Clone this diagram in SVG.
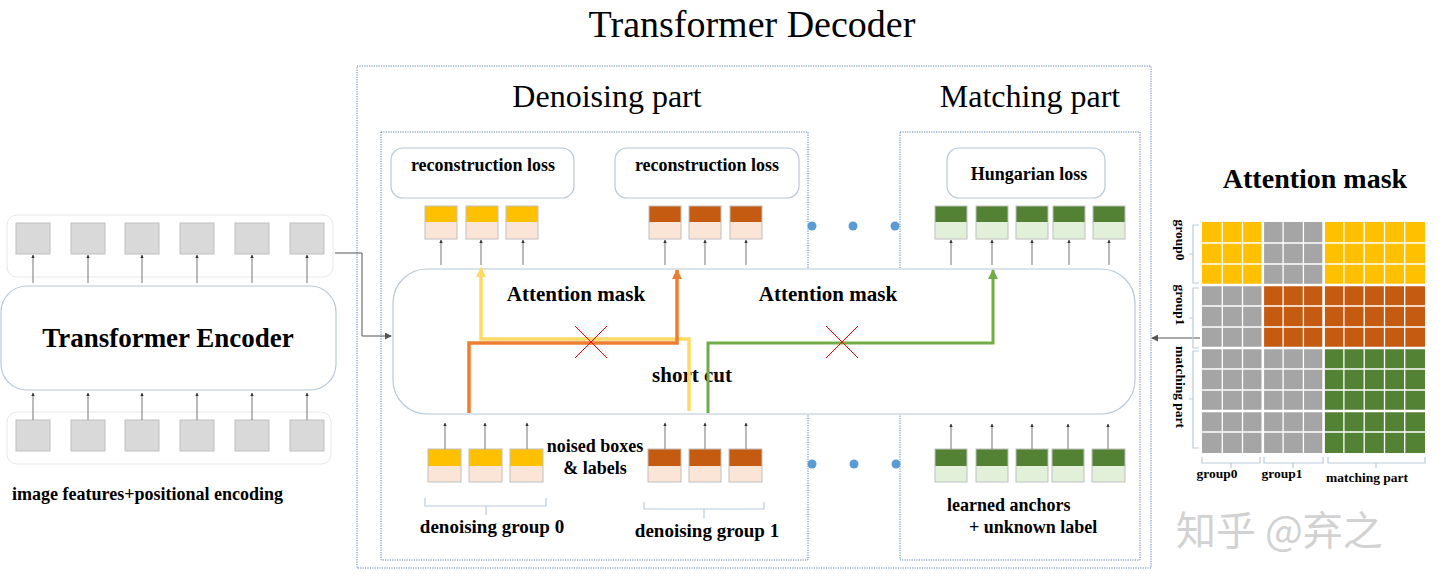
<svg xmlns="http://www.w3.org/2000/svg" width="1440" height="585" viewBox="0 0 1440 585">
<style>
text{font-family:"Liberation Serif","Times New Roman",serif;fill:#000}
.b{font-weight:bold}
.dot{fill:none;stroke:#5a7fa8;stroke-width:1;stroke-dasharray:1.2 1.2}
.rb{fill:#fff;stroke:#b8c8d6;stroke-width:1.2}
.lc{fill:#fff;stroke:#e4e8ec;stroke-width:1}
.gt{fill:#d9d9d9;stroke:#bfbfbf;stroke-width:1}
.ln line{stroke:#777;stroke-width:1;marker-end:url(#tip)}
.br{fill:none;stroke:#b9cbdb;stroke-width:1.2}
.tb{stroke:#bfbfbf;stroke-width:1}
.y1{fill:#ffc000}.o1{fill:#c55a11}.g1{fill:#548235}
.p2{fill:#fbe5d6}.g2{fill:#e2f0d9}
.bd{fill:#5b9bd5}
.x{stroke:#ff0000;stroke-width:1}
.wl{stroke:#fff;stroke-width:1.3}
.wt{stroke:#fff;stroke-width:2.6}
</style>
<defs>
<marker id="tip" viewBox="0 0 4 4" refX="3.5" refY="2" markerWidth="3.5" markerHeight="3.5" markerUnits="userSpaceOnUse" orient="auto"><path d="M0,0L4,2L0,4z" fill="#333"/></marker>
<marker id="ar" viewBox="0 0 8 8" refX="7" refY="4" markerWidth="7" markerHeight="7" markerUnits="userSpaceOnUse" orient="auto"><path d="M0,0L8,4L0,8z" fill="#555"/></marker>
<marker id="ay" viewBox="0 0 10 10" refX="9" refY="5" markerWidth="10" markerHeight="10" markerUnits="userSpaceOnUse" orient="auto"><path d="M0,0L10,5L0,10z" fill="#ffd966"/></marker>
<marker id="ao" viewBox="0 0 10 10" refX="9" refY="5" markerWidth="10" markerHeight="10" markerUnits="userSpaceOnUse" orient="auto"><path d="M0,0L10,5L0,10z" fill="#ed7d31"/></marker>
<marker id="ag" viewBox="0 0 10 10" refX="9" refY="5" markerWidth="10" markerHeight="10" markerUnits="userSpaceOnUse" orient="auto"><path d="M0,0L10,5L0,10z" fill="#70ad47"/></marker>
</defs>

<text x="752" y="37" font-size="38" text-anchor="middle">Transformer Decoder</text>

<!-- Encoder side -->
<g id="encoder-outputs">
<rect class="lc" x="7" y="215" width="326" height="62" rx="10"/>
<rect class="gt" x="16" y="223" width="34" height="31"/>
<rect class="gt" x="71" y="223" width="34" height="31"/>
<rect class="gt" x="125" y="223" width="34" height="31"/>
<rect class="gt" x="180" y="223" width="34" height="31"/>
<rect class="gt" x="235" y="223" width="34" height="31"/>
<rect class="gt" x="290" y="223" width="34" height="31"/>
</g>
<g id="transformer-encoder">
<rect class="rb" x="1" y="286" width="335" height="104" rx="26"/>
<text class="b" x="168" y="347" font-size="27" text-anchor="middle">Transformer Encoder</text>
</g>
<g id="encoder-inputs">
<rect class="lc" x="7" y="412" width="324" height="52" rx="10"/>
<rect class="gt" x="16" y="420" width="34" height="31"/>
<rect class="gt" x="71" y="420" width="34" height="31"/>
<rect class="gt" x="125" y="420" width="34" height="31"/>
<rect class="gt" x="180" y="420" width="34" height="31"/>
<rect class="gt" x="235" y="420" width="34" height="31"/>
<rect class="gt" x="290" y="420" width="34" height="31"/>
<text class="b" x="12" y="500" font-size="18">image features+positional encoding</text>
</g>

<!-- Decoder frames -->
<g id="decoder">
<rect class="dot" x="357" y="66" width="794" height="502"/>
<text x="607" y="107" font-size="32" text-anchor="middle">Denoising part</text>
<text x="1030" y="107" font-size="32" text-anchor="middle">Matching part</text>
</g>
<g id="denoising-part"><rect class="dot" x="381" y="132" width="427" height="428"/></g>
<g id="matching-part"><rect class="dot" x="900" y="132" width="240" height="428"/></g>

<g id="loss0"><rect class="rb" x="391" y="148" width="183" height="50" rx="12"/><text class="b" x="483" y="171" font-size="18" text-anchor="middle">reconstruction loss</text></g>
<g id="loss1"><rect class="rb" x="615" y="148" width="184" height="50" rx="12"/><text class="b" x="707" y="171" font-size="18" text-anchor="middle">reconstruction loss</text></g>
<g id="hungarian"><rect class="rb" x="947" y="148" width="158" height="50" rx="12"/><text class="b" x="1029" y="180" font-size="18" text-anchor="middle">Hungarian loss</text></g>

<g id="decoder-block">
<rect class="rb" x="393" y="269" width="742" height="145" rx="34"/>
<text class="b" x="576" y="301" font-size="21" text-anchor="middle">Attention mask</text>
<text class="b" x="828" y="301" font-size="21" text-anchor="middle">Attention mask</text>
<text class="b" x="692" y="382" font-size="21" text-anchor="middle">short cut</text>
</g>

<!-- output tokens -->
<g id="out-group0">
<rect class="y1" x="425" y="206" width="32" height="16"/><rect class="p2" x="425" y="222" width="32" height="17"/><rect class="tb" x="425" y="206" width="32" height="33" fill="none"/>
<rect class="y1" x="466" y="206" width="32" height="16"/><rect class="p2" x="466" y="222" width="32" height="17"/><rect class="tb" x="466" y="206" width="32" height="33" fill="none"/>
<rect class="y1" x="506" y="206" width="32" height="16"/><rect class="p2" x="506" y="222" width="32" height="17"/><rect class="tb" x="506" y="206" width="32" height="33" fill="none"/>
</g>
<g id="out-group1">
<rect class="o1" x="649" y="206" width="32" height="16"/><rect class="p2" x="649" y="222" width="32" height="17"/><rect class="tb" x="649" y="206" width="32" height="33" fill="none"/>
<rect class="o1" x="689" y="206" width="32" height="16"/><rect class="p2" x="689" y="222" width="32" height="17"/><rect class="tb" x="689" y="206" width="32" height="33" fill="none"/>
<rect class="o1" x="730" y="206" width="32" height="16"/><rect class="p2" x="730" y="222" width="32" height="17"/><rect class="tb" x="730" y="206" width="32" height="33" fill="none"/>
</g>
<g id="out-matching">
<rect class="g1" x="935" y="206" width="32" height="16"/><rect class="g2" x="935" y="222" width="32" height="17"/><rect class="tb" x="935" y="206" width="32" height="33" fill="none"/>
<rect class="g1" x="976" y="206" width="32" height="16"/><rect class="g2" x="976" y="222" width="32" height="17"/><rect class="tb" x="976" y="206" width="32" height="33" fill="none"/>
<rect class="g1" x="1016" y="206" width="32" height="16"/><rect class="g2" x="1016" y="222" width="32" height="17"/><rect class="tb" x="1016" y="206" width="32" height="33" fill="none"/>
<rect class="g1" x="1053" y="206" width="32" height="16"/><rect class="g2" x="1053" y="222" width="32" height="17"/><rect class="tb" x="1053" y="206" width="32" height="33" fill="none"/>
<rect class="g1" x="1093" y="206" width="32" height="16"/><rect class="g2" x="1093" y="222" width="32" height="17"/><rect class="tb" x="1093" y="206" width="32" height="33" fill="none"/>
</g>

<!-- input tokens -->
<g id="in-group0">
<rect class="y1" x="428" y="449" width="33" height="17"/><rect class="p2" x="428" y="466" width="33" height="16"/><rect class="tb" x="428" y="449" width="33" height="33" fill="none"/>
<rect class="y1" x="469" y="449" width="33" height="17"/><rect class="p2" x="469" y="466" width="33" height="16"/><rect class="tb" x="469" y="449" width="33" height="33" fill="none"/>
<rect class="y1" x="510" y="449" width="33" height="17"/><rect class="p2" x="510" y="466" width="33" height="16"/><rect class="tb" x="510" y="449" width="33" height="33" fill="none"/>
<path class="br" d="M425,498V506H546V498M486,506V515"/>
<text class="b" x="492" y="533" font-size="19" text-anchor="middle">denoising group 0</text>
</g>
<g id="noised-label">
<text class="b" x="595" y="452" font-size="18" text-anchor="middle">noised boxes</text>
<text class="b" x="595" y="474" font-size="18" text-anchor="middle">&amp; labels</text>
</g>
<g id="in-group1">
<rect class="o1" x="648" y="449" width="33" height="17"/><rect class="p2" x="648" y="466" width="33" height="16"/><rect class="tb" x="648" y="449" width="33" height="33" fill="none"/>
<rect class="o1" x="689" y="449" width="32" height="17"/><rect class="p2" x="689" y="466" width="32" height="16"/><rect class="tb" x="689" y="449" width="32" height="33" fill="none"/>
<rect class="o1" x="729" y="449" width="33" height="17"/><rect class="p2" x="729" y="466" width="33" height="16"/><rect class="tb" x="729" y="449" width="33" height="33" fill="none"/>
<path class="br" d="M644,502V509H764V502M704,509V518"/>
<text class="b" x="707" y="537" font-size="19" text-anchor="middle">denoising group 1</text>
</g>
<g id="in-matching">
<rect class="g1" x="935" y="449" width="32" height="17"/><rect class="g2" x="935" y="466" width="32" height="16"/><rect class="tb" x="935" y="449" width="32" height="33" fill="none"/>
<rect class="g1" x="976" y="449" width="32" height="17"/><rect class="g2" x="976" y="466" width="32" height="16"/><rect class="tb" x="976" y="449" width="32" height="33" fill="none"/>
<rect class="g1" x="1016" y="449" width="32" height="17"/><rect class="g2" x="1016" y="466" width="32" height="16"/><rect class="tb" x="1016" y="449" width="32" height="33" fill="none"/>
<rect class="g1" x="1052" y="449" width="32" height="17"/><rect class="g2" x="1052" y="466" width="32" height="16"/><rect class="tb" x="1052" y="449" width="32" height="33" fill="none"/>
<rect class="g1" x="1092" y="449" width="33" height="17"/><rect class="g2" x="1092" y="466" width="33" height="16"/><rect class="tb" x="1092" y="449" width="33" height="33" fill="none"/>
<text class="b" x="947" y="511" font-size="18">learned anchors</text>
<text class="b" x="969" y="533" font-size="18">+ unknown label</text>
</g>

<g id="ellipsis">
<circle class="bd" cx="812" cy="226" r="4.5"/><circle class="bd" cx="853" cy="226" r="4.5"/><circle class="bd" cx="895" cy="226" r="4.5"/>
<circle class="bd" cx="812" cy="464" r="4.5"/><circle class="bd" cx="854" cy="464" r="4.5"/><circle class="bd" cx="896" cy="464" r="4.5"/>
</g>

<!-- connectors -->
<g id="connectors">
<g class="ln">
<line x1="33" y1="283" x2="33" y2="255"/><line x1="88" y1="283" x2="88" y2="255"/><line x1="142" y1="283" x2="142" y2="255"/><line x1="197" y1="283" x2="197" y2="255"/><line x1="252" y1="283" x2="252" y2="255"/><line x1="307" y1="283" x2="307" y2="255"/>
<line x1="33" y1="420" x2="33" y2="393"/><line x1="88" y1="420" x2="88" y2="393"/><line x1="142" y1="420" x2="142" y2="393"/><line x1="197" y1="420" x2="197" y2="393"/><line x1="252" y1="420" x2="252" y2="393"/><line x1="307" y1="420" x2="307" y2="393"/>
<line x1="441" y1="265" x2="441" y2="240"/><line x1="481" y1="265" x2="481" y2="240"/><line x1="523" y1="265" x2="523" y2="240"/><line x1="665" y1="265" x2="665" y2="240"/><line x1="705" y1="265" x2="705" y2="240"/><line x1="746" y1="265" x2="746" y2="240"/>
<line x1="951" y1="265" x2="951" y2="240"/><line x1="992" y1="265" x2="992" y2="240"/><line x1="1032" y1="265" x2="1032" y2="240"/><line x1="1069" y1="265" x2="1069" y2="240"/><line x1="1109" y1="265" x2="1109" y2="240"/>
<line x1="445" y1="449" x2="445" y2="423"/><line x1="485" y1="449" x2="485" y2="423"/><line x1="527" y1="449" x2="527" y2="423"/><line x1="665" y1="449" x2="665" y2="423"/><line x1="705" y1="449" x2="705" y2="423"/><line x1="746" y1="449" x2="746" y2="423"/>
<line x1="951" y1="449" x2="951" y2="424"/><line x1="992" y1="449" x2="992" y2="424"/><line x1="1032" y1="449" x2="1032" y2="424"/><line x1="1068" y1="449" x2="1068" y2="424"/><line x1="1108" y1="449" x2="1108" y2="424"/>
</g>
<path d="M335,253H362V336H391" fill="none" stroke="#555" stroke-width="1" marker-end="url(#ar)"/>
<path d="M1200,338H1152" fill="none" stroke="#555" stroke-width="1" marker-end="url(#ar)"/>
<path d="M689,411V339H481V268" fill="none" stroke="#ffd966" stroke-width="3.5" marker-end="url(#ay)"/>
<path d="M469,413V343H677V270" fill="none" stroke="#ed7d31" stroke-width="3.5" marker-end="url(#ao)"/>
<path d="M708,413V343H993V270" fill="none" stroke="#70ad47" stroke-width="3" marker-end="url(#ag)"/>
<path class="x" d="M575,326L607,358M607,326L575,358"/>
<path class="x" d="M826,326L858,358M858,326L826,358"/>
</g>

<!-- Attention mask matrix -->
<g id="attention-mask">
<text class="b" x="1315" y="188" font-size="28" text-anchor="middle">Attention mask</text>
<rect x="1202" y="222" width="61" height="63" fill="#ffc000"/>
<rect x="1262.8" y="222" width="61" height="63" fill="#a5a5a5"/>
<rect x="1323.6" y="222" width="101.4" height="63" fill="#ffc000"/>
<rect x="1202" y="285" width="61" height="63" fill="#a5a5a5"/>
<rect x="1262.8" y="285" width="162.2" height="63" fill="#c55a11"/>
<rect x="1202" y="348" width="121.6" height="105" fill="#a5a5a5"/>
<rect x="1323.6" y="348" width="101.4" height="105" fill="#548235"/>
<path class="wl" d="M1222.3,222V453M1242.5,222V453M1283.1,222V453M1303.4,222V453M1343.9,222V453M1364.2,222V453M1384.5,222V453M1404.7,222V453M1202,243H1425M1202,264H1425M1202,306H1425M1202,327H1425M1202,369H1425M1202,390H1425M1202,432H1425"/>
<path class="wt" d="M1262.8,222V453M1323.6,222V453M1202,285H1425M1202,348H1425M1202,411H1425"/>
<path class="br" d="M1199,225H1193V283H1199M1193,254H1189M1199,288H1193V348H1199M1193,318H1189M1199,351H1193V448H1199M1193,399H1189"/>
<path class="br" d="M1202,457V463H1260V457M1231,463V468M1264,457V463H1323V457M1293,463V468M1328,457V463H1425V457M1376,463V468"/>
<text class="b" font-size="13.5" text-anchor="middle" dominant-baseline="central" transform="translate(1180,240) rotate(90)">group0</text>
<text class="b" font-size="13.5" text-anchor="middle" dominant-baseline="central" transform="translate(1180,305) rotate(90)">group1</text>
<text class="b" font-size="13.5" text-anchor="middle" dominant-baseline="central" transform="translate(1180,387) rotate(90)">matching part</text>
<text class="b" x="1217" y="478" font-size="13.5" text-anchor="middle">group0</text>
<text class="b" x="1282" y="478" font-size="13.5" text-anchor="middle">group1</text>
<text class="b" x="1367" y="482" font-size="13.5" text-anchor="middle">matching part</text>
</g>

<text x="1176" y="545" font-size="40" style="font-family:'Noto Sans CJK SC',sans-serif;fill:#d2d2d2">知乎 @弃之</text>
</svg>
